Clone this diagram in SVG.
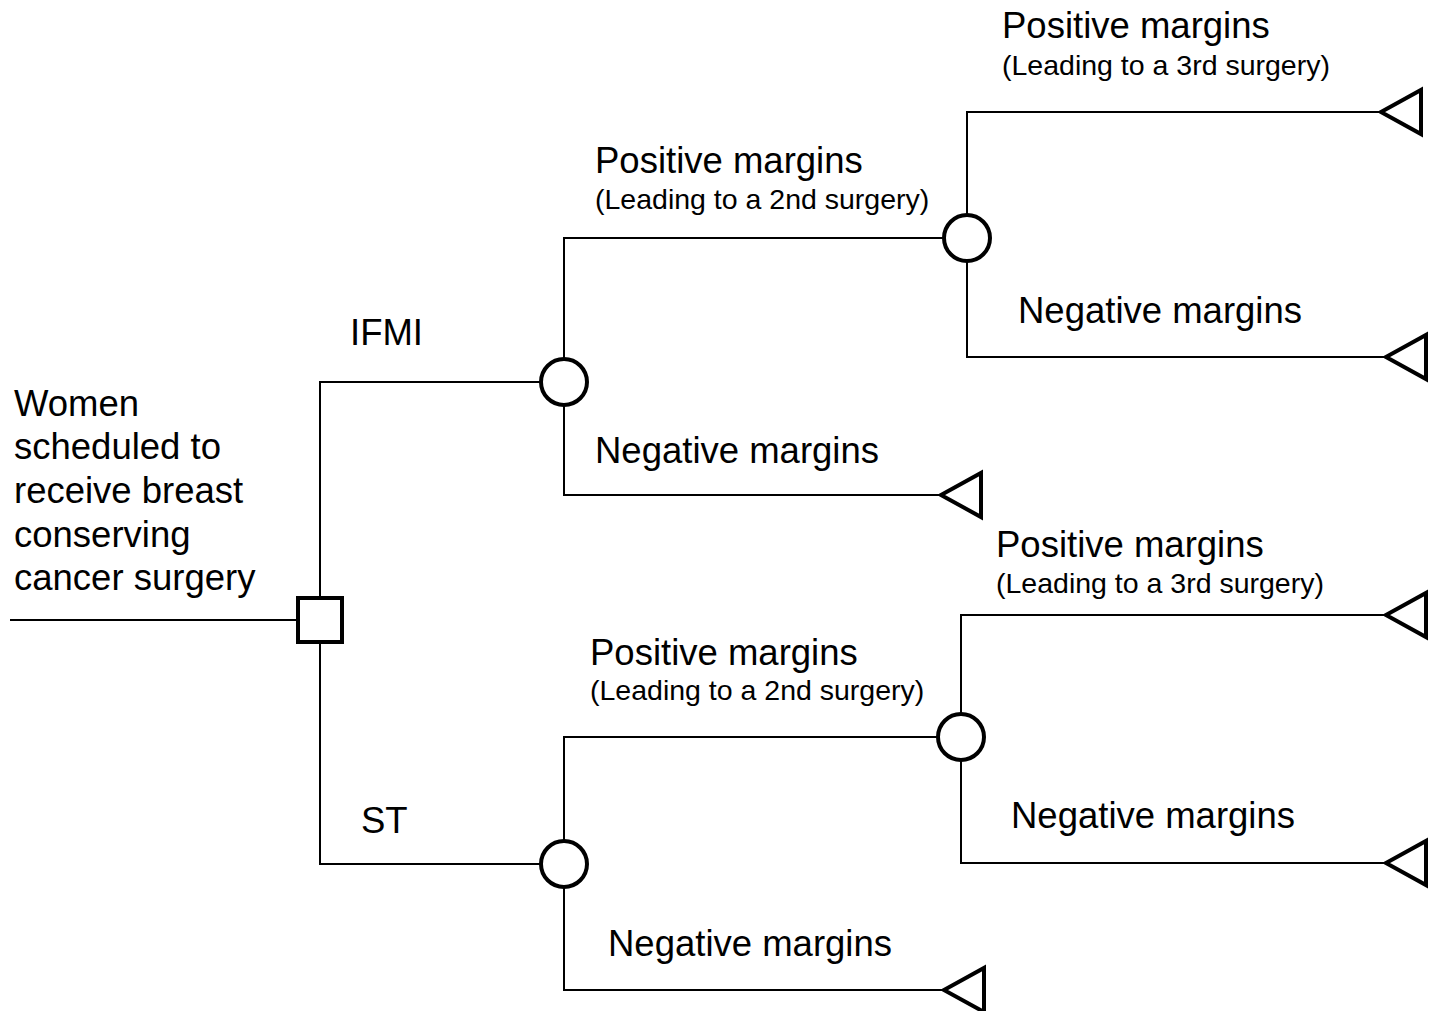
<svg xmlns="http://www.w3.org/2000/svg" width="1437" height="1011" viewBox="0 0 1437 1011">
<style>
.t{font-family:"Liberation Sans",Arial,sans-serif;font-size:36.5px;fill:#000}
.s{font-family:"Liberation Sans",Arial,sans-serif;font-size:28.5px;fill:#000}
.ln{stroke:#000;stroke-width:2;fill:none}
.nd{stroke:#000;stroke-width:4;fill:#fff}
</style>
<rect width="1437" height="1011" fill="#fff"/>
<g id="connectors">
<path class="ln" d="M10 620H298"/>
<path class="ln" d="M540 382H320V864H540"/>
<path class="ln" d="M944 238H564V495H941"/>
<path class="ln" d="M1381 112H967V357H1386"/>
<path class="ln" d="M938 737H564V990H944"/>
<path class="ln" d="M1386 615H961V863H1386"/>
</g>
<g id="decision"><rect class="nd" x="298" y="598" width="44" height="44"/></g>
<g id="chance1"><circle class="nd" cx="564" cy="382" r="23"/></g>
<g id="chance2"><circle class="nd" cx="967" cy="238" r="23"/></g>
<g id="chance3"><circle class="nd" cx="564" cy="864" r="23"/></g>
<g id="chance4"><circle class="nd" cx="961" cy="737" r="23"/></g>
<g id="term1"><polygon class="nd" points="1381,112 1421,90 1421,134"/></g>
<g id="term2"><polygon class="nd" points="1386,357 1426,335 1426,379"/></g>
<g id="term3"><polygon class="nd" points="941,495 981,473 981,517"/></g>
<g id="term4"><polygon class="nd" points="1386,615 1426,593 1426,637"/></g>
<g id="term5"><polygon class="nd" points="1386,863 1426,841 1426,885"/></g>
<g id="term6"><polygon class="nd" points="944,990 984,968 984,1012"/></g>
<g id="labels">
<text class="t" x="14" y="416">Women</text>
<text class="t" x="14" y="459">scheduled to</text>
<text class="t" x="14" y="503">receive breast</text>
<text class="t" x="14" y="547">conserving</text>
<text class="t" x="14" y="590">cancer surgery</text>
<text class="t" x="350" y="345">IFMI</text>
<text class="t" x="361" y="833">ST</text>
<text class="t" x="595" y="173">Positive margins</text>
<text class="s" x="595" y="209">(Leading to a 2nd surgery)</text>
<text class="t" x="595" y="463">Negative margins</text>
<text class="t" x="1002" y="38">Positive margins</text>
<text class="s" x="1002" y="75">(Leading to a 3rd surgery)</text>
<text class="t" x="1018" y="323">Negative margins</text>
<text class="t" x="590" y="665">Positive margins</text>
<text class="s" x="590" y="700">(Leading to a 2nd surgery)</text>
<text class="t" x="996" y="557">Positive margins</text>
<text class="s" x="996" y="593">(Leading to a 3rd surgery)</text>
<text class="t" x="1011" y="828">Negative margins</text>
<text class="t" x="608" y="956">Negative margins</text>
</g>
</svg>
